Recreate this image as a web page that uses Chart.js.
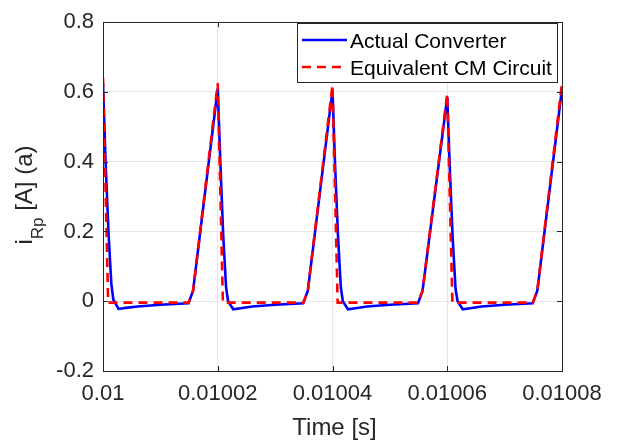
<!DOCTYPE html>
<html><head><meta charset="utf-8">
<script src="https://cdn.jsdelivr.net/npm/chart.js@4.4.0/dist/chart.umd.min.js"></script>
<style>html,body{margin:0;padding:0;background:#fff}#wrap{width:619px;height:446px}</style>
</head><body><div id="wrap"><canvas id="c" width="619" height="446"></canvas></div>
<script>
// Actual Converter (blue, solid)
const timeActual = [
  0.01, 0.01000045, 0.01000095, 0.01000145, 0.0100018, 0.0100027, 0.01000400, 0.01000600, 0.01001000, 0.0100149, 0.0100157,
  0.01002, 0.01002045, 0.01002095, 0.01002145, 0.0100218, 0.0100227, 0.01002400, 0.01002600, 0.01003000, 0.0100349, 0.0100357,
  0.01004, 0.01004045, 0.01004095, 0.01004145, 0.0100418, 0.0100427, 0.01004400, 0.01004600, 0.01005000, 0.0100549, 0.0100557,
  0.01006, 0.01006045, 0.01006095, 0.01006145, 0.0100618, 0.0100627, 0.01006400, 0.01006600, 0.01007000, 0.0100749, 0.0100757,
  0.01008
];
const iActual = [
  0.625, 0.40, 0.20, 0.05, 0.005, -0.022, -0.019, -0.015, -0.010, -0.006, 0.03,
  0.610, 0.40, 0.19, 0.04, 0.0, -0.023, -0.020, -0.015, -0.010, -0.006, 0.03,
  0.605, 0.39, 0.19, 0.04, 0.0, -0.023, -0.020, -0.015, -0.010, -0.006, 0.03,
  0.585, 0.38, 0.18, 0.035, 0.0, -0.023, -0.020, -0.015, -0.010, -0.006, 0.03,
  0.610
];
// Equivalent CM Circuit (red, dashed)
const timeEquiv = [
  0.01, 0.0100009, 0.0100149, 0.0100157,
  0.01002, 0.0100209, 0.0100349, 0.0100357,
  0.01004, 0.0100409, 0.0100549, 0.0100557,
  0.01006, 0.0100609, 0.0100749, 0.0100757,
  0.01008
];
const iEquiv = [
  0.640, -0.004, -0.004, 0.03,
  0.625, -0.004, -0.004, 0.03,
  0.620, -0.004, -0.004, 0.03,
  0.595, -0.004, -0.004, 0.03,
  0.625
];
const seriesNames = ['Actual Converter', 'Equivalent CM Circuit'];
const xTickValues = [0.01, 0.01002, 0.01004, 0.01006, 0.01008];
const xTickLabels = ['0.01', '0.01002', '0.01004', '0.01006', '0.01008'];
const yTickValues = [-0.2, 0, 0.2, 0.4, 0.6, 0.8];
const yTickLabels = ['-0.2', '0', '0.2', '0.4', '0.6', '0.8'];
const xTitle = 'Time [s]';
const yTitleMain = 'i', yTitleSub = 'Rp', yTitleRest = ' [A] (a)';

const FONT = "'Liberation Sans', Arial, Helvetica, sans-serif";
const AX = '#262626';

function pts(xs, ys) { return xs.map((x, i) => ({x: x, y: ys[i]})); }
function lookup(vals, labels, v) {
  const k = vals.findIndex(t => Math.abs(t - v) < 1e-9);
  return k >= 0 ? labels[k] : '';
}

const decor = {
  id: 'decor',
  afterDraw(chart) {
    const ctx = chart.ctx, a = chart.chartArea;
    const xs = chart.scales.x, ys = chart.scales.y;
    ctx.save();
    // frame
    ctx.strokeStyle = AX; ctx.lineWidth = 1;
    ctx.strokeRect(Math.round(a.left) + 0.5, Math.round(a.top) + 0.5, Math.round(a.right - a.left), Math.round(a.bottom - a.top));
    // inward tick marks
    const tl = 5;
    ctx.beginPath();
    xTickValues.forEach(v => {
      const px = Math.round(xs.getPixelForValue(v)) + 0.5;
      ctx.moveTo(px, a.bottom); ctx.lineTo(px, a.bottom - tl);
      ctx.moveTo(px, a.top); ctx.lineTo(px, a.top + tl);
    });
    yTickValues.forEach(v => {
      const py = Math.round(ys.getPixelForValue(v)) + 0.5;
      ctx.moveTo(a.left, py); ctx.lineTo(a.left + tl, py);
      ctx.moveTo(a.right, py); ctx.lineTo(a.right - tl, py);
    });
    ctx.stroke();

    // x title
    ctx.fillStyle = AX;
    ctx.font = '24px ' + FONT;
    ctx.textAlign = 'center'; ctx.textBaseline = 'alphabetic';
    ctx.fillText(xTitle, (a.left + a.right) / 2 + 2, 435);

    // y title (rotated, with subscript)
    const mainF = '24px ' + FONT, subF = '17px ' + FONT;
    ctx.font = mainF; const w1 = ctx.measureText(yTitleMain).width;
    const w3 = ctx.measureText(yTitleRest).width;
    ctx.font = subF; const w2 = ctx.measureText(yTitleSub).width;
    const total = w1 + w2 + w3;
    ctx.translate(32, 195);
    ctx.rotate(-Math.PI / 2);
    ctx.textAlign = 'left';
    let x0 = -total / 2;
    ctx.font = mainF; ctx.fillText(yTitleMain, x0, 0); x0 += w1;
    ctx.font = subF; ctx.fillText(yTitleSub, x0, 11); x0 += w2;
    ctx.font = mainF; ctx.fillText(yTitleRest, x0, 0);
    ctx.setTransform(1, 0, 0, 1, 0, 0);

    // legend
    const lx = 297, ly = 23, lw = 260, lh = 59;
    ctx.fillStyle = '#fff';
    ctx.fillRect(lx, ly, lw, lh);
    ctx.strokeStyle = AX; ctx.lineWidth = 1;
    ctx.strokeRect(lx + 0.5, ly + 0.5, lw, lh);
    const rows = [40, 67];
    chart.data.datasets.forEach((ds, i) => {
      ctx.strokeStyle = ds.borderColor; ctx.lineWidth = ds.borderWidth;
      ctx.setLineDash(ds.borderDash || []);
      ctx.beginPath(); ctx.moveTo(302, rows[i]); ctx.lineTo(347, rows[i]); ctx.stroke();
      ctx.setLineDash([]);
      ctx.fillStyle = '#000'; ctx.font = '21px ' + FONT;
      ctx.textAlign = 'left'; ctx.textBaseline = 'alphabetic';
      ctx.fillText(ds.label, 350, rows[i] + 8);
    });
    ctx.restore();
  }
};

new Chart(document.getElementById('c'), {
  type: 'line',
  data: {
    datasets: [
      { label: seriesNames[0], data: pts(timeActual, iActual), borderColor: '#0000ff', borderWidth: 2.6,
        pointRadius: 0, fill: false, tension: 0, order: 1 },
      { label: seriesNames[1], data: pts(timeEquiv, iEquiv), borderColor: '#ff0000', borderWidth: 2.6,
        borderDash: [9, 6], pointRadius: 0, fill: false, tension: 0, order: 0 }
    ]
  },
  options: {
    responsive: false, animation: false, devicePixelRatio: 1,
    layout: { padding: { left: 0, right: 57, top: 17, bottom: 0 } },
    plugins: { legend: { display: false }, tooltip: { enabled: false } },
    scales: {
      x: {
        type: 'linear', min: 0.01, max: 0.01008,
        afterBuildTicks: s => { s.ticks = xTickValues.map(v => ({ value: v })); },
        afterFit: s => { s.height = 75; },
        ticks: { callback: v => lookup(xTickValues, xTickLabels, v), font: { family: FONT, size: 22 },
          color: AX, padding: 10, maxRotation: 0, autoSkip: false },
        grid: { color: '#e6e6e6', drawTicks: false, lineWidth: 1 },
        border: { display: false }
      },
      y: {
        type: 'linear', min: -0.2, max: 0.8,
        afterBuildTicks: s => { s.ticks = yTickValues.map(v => ({ value: v })); },
        afterFit: s => { s.width = 103; },
        ticks: { callback: v => lookup(yTickValues, yTickLabels, v), font: { family: FONT, size: 22 },
          color: AX, padding: 9, autoSkip: false },
        grid: { color: '#e6e6e6', drawTicks: false, lineWidth: 1 },
        border: { display: false }
      }
    }
  },
  plugins: [decor]
});
</script></body></html>
